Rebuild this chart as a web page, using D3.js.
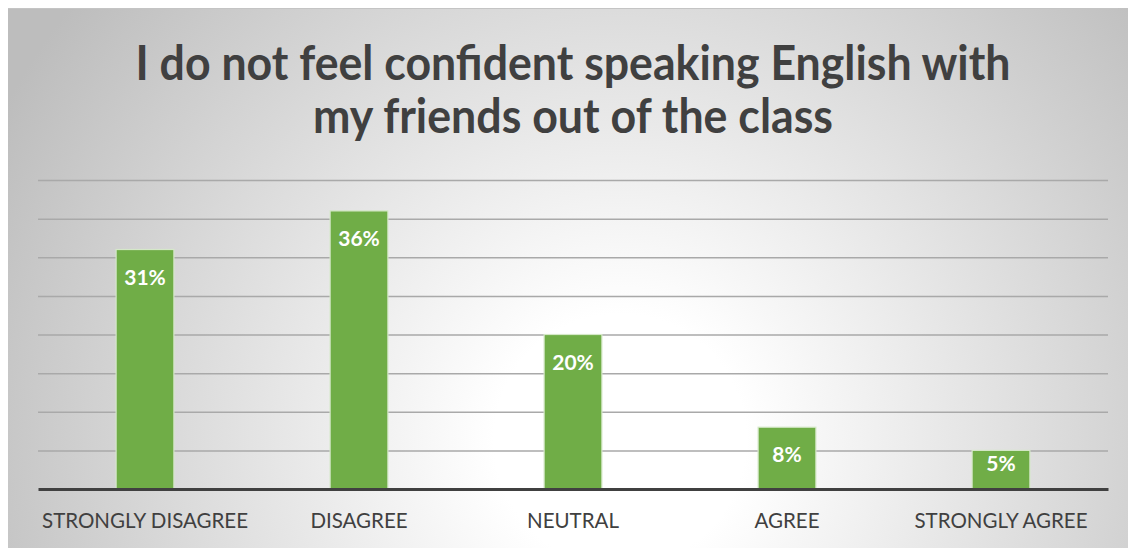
<!DOCTYPE html>
<html>
<head>
<meta charset="utf-8">
<script src="https://cdn.jsdelivr.net/npm/d3@7"></script>
<style>
html,body{margin:0;padding:0;background:#fff;}
svg{display:block;}
</style>
</head>
<body>
<svg id="chart" width="1128" height="548"></svg>
<script>
const categories = ["STRONGLY DISAGREE", "DISAGREE", "NEUTRAL", "AGREE", "STRONGLY AGREE"];
const values = [31, 36, 20, 8, 5];
const valueLabels = ["31%", "36%", "20%", "8%", "5%"];
const gridTicks = [0, 5, 10, 15, 20, 25, 30, 35, 40];
const titleLines = ["I do not feel confident speaking English with", "my friends out of the class"];

const W = 1128, H = 548;
const svg = d3.select("#chart");
const defs = svg.append("defs");
const grad = defs.append("radialGradient")
  .attr("id", "bg").attr("gradientUnits", "userSpaceOnUse")
  .attr("cx", 620).attr("cy", 440).attr("r", 700);
grad.append("stop").attr("offset", "0").attr("stop-color", "#ffffff");
grad.append("stop").attr("offset", "0.18").attr("stop-color", "#ffffff");
grad.append("stop").attr("offset", "1").attr("stop-color", "#bdbdbd");

svg.append("rect").attr("x", 8).attr("y", 8).attr("width", W - 8).attr("height", H - 8)
  .attr("fill", "url(#bg)");
svg.append("line").attr("x1", 8).attr("x2", 1118).attr("y1", 8.5).attr("y2", 8.5)
  .attr("stroke", "#c4c4c4").attr("stroke-width", 1);

const margin = {left: 38, right: 1108, top: 180, bottom: 489};
const x = d3.scaleBand().domain(categories).range([margin.left, margin.right]).paddingInner(0.73).paddingOuter(0.365);
const y = d3.scaleLinear().domain([0, 40]).range([margin.bottom, margin.top]);

// gridlines
const grid = svg.append("g").attr("class", "grid")
  .attr("transform", `translate(${margin.left},0)`)
  .call(d3.axisLeft(y).tickValues(gridTicks.filter(d => d > 0)).tickSize(-(margin.right - margin.left)).tickFormat(""));
grid.select(".domain").remove();
grid.selectAll(".tick line").attr("stroke", "#a9a9a9").attr("stroke-width", 1.5);

// bars
svg.append("g").selectAll("rect").data(values).join("rect")
  .attr("x", (d, i) => x(categories[i]))
  .attr("y", d => y(d))
  .attr("width", x.bandwidth())
  .attr("height", d => y(0) - y(d))
  .attr("fill", "#70ad47")
  .attr("stroke", "#d5e8c8").attr("stroke-width", 1.2);

// value labels (inside end, kept within the bar)
svg.append("g").selectAll("text").data(values).join("text")
  .attr("x", (d, i) => x(categories[i]) + x.bandwidth() / 2)
  .attr("y", d => Math.min(y(d) + 35, y(0) - 18))
  .attr("text-anchor", "middle")
  .attr("font-family", "Lato, 'Open Sans', sans-serif")
  .attr("font-weight", "bold")
  .attr("font-size", 21)
  .attr("fill", "#ffffff")
  .text((d, i) => valueLabels[i]);

// x axis
const xa = svg.append("g").attr("transform", `translate(0,${margin.bottom})`)
  .call(d3.axisBottom(x).tickSize(0).tickPadding(39));
xa.select(".domain").attr("stroke", "#404040").attr("stroke-width", 3);
xa.selectAll(".tick text")
  .attr("font-family", "Lato, 'Open Sans', sans-serif")
  .attr("font-size", 20.5)
  .attr("fill", "#404040")
  .attr("dy", 0);

// title
const title = svg.append("g");
const tPos = [{y: 80, len: 875}, {y: 133, len: 520}];
titleLines.forEach((t, i) => {
  title.append("text")
    .attr("x", 573).attr("y", tPos[i].y)
    .attr("text-anchor", "middle")
    .attr("font-family", "Lato, 'Open Sans', sans-serif")
    .attr("font-weight", "bold")
    .attr("font-size", 47)
    .attr("fill", "#404040")
    .attr("textLength", tPos[i].len)
    .attr("lengthAdjust", "spacingAndGlyphs")
    .text(t);
});
</script>
</body>
</html>
